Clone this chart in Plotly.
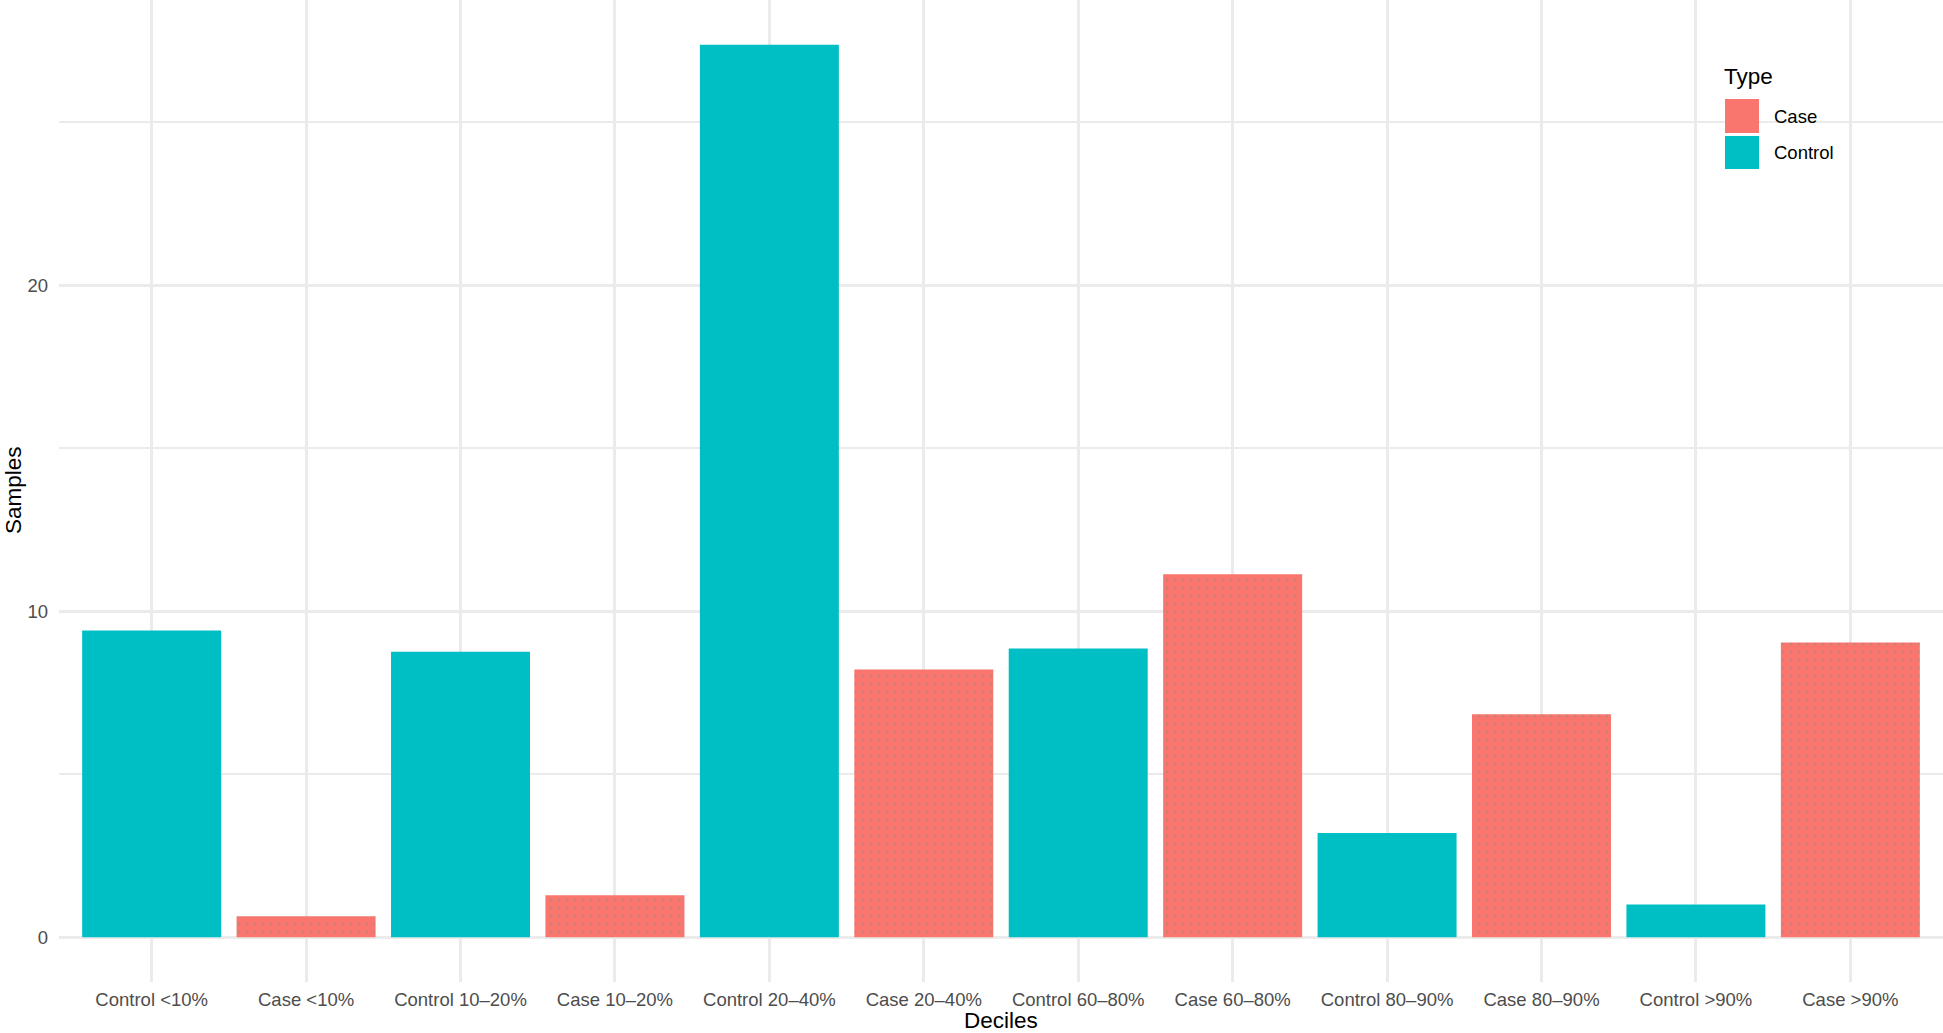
import plotly.graph_objects as go

# ---- data ----
categories = ["Control <10%", "Case <10%", "Control 10–20%", "Case 10–20%",
              "Control 20–40%", "Case 20–40%", "Control 60–80%", "Case 60–80%",
              "Control 80–90%", "Case 80–90%", "Control >90%", "Case >90%"]
types = ["Control", "Case", "Control", "Case", "Control", "Case",
         "Control", "Case", "Control", "Case", "Control", "Case"]
samples = [9.41, 0.65, 8.76, 1.29, 27.37, 8.21, 8.86, 11.13, 3.20, 6.84, 1.01, 9.04]

legend_types = ["Case", "Control"]
colors = {"Case": "#F8766D", "Control": "#00BFC4"}

W, H = 1943, 1033
L, R, T, B = 59, 1943, 0, 982
FONT = "Liberation Sans, Arial, Helvetica, sans-serif"


def px(x):
    return (x - L) / (R - L)


def py(y):
    return (B - y) / (B - T)


fig = go.Figure()
for t in ["Control", "Case"]:
    xs = [c for c, tt in zip(categories, types) if tt == t]
    ys = [v for v, tt in zip(samples, types) if tt == t]
    marker = dict(color=colors[t], line=dict(width=0))
    if t == "Case":
        marker["pattern"] = dict(shape=".", fgcolor="#5a9893", bgcolor=colors[t],
                                 size=8, solidity=0.05)
    fig.add_trace(go.Bar(x=xs, y=ys, name=t, width=0.9, marker=marker,
                         showlegend=False))

ymax = max(samples)
fig.update_layout(
    width=W, height=H,
    margin=dict(l=L, r=W - R, t=T, b=H - B, pad=0),
    paper_bgcolor="white", plot_bgcolor="white",
    barmode="overlay",
    font=dict(family=FONT),
    xaxis=dict(
        type="category", categoryorder="array", categoryarray=categories,
        range=[-0.6, len(categories) - 0.4],
        showgrid=True, gridcolor="#EBEBEB", gridwidth=2.7,
        showline=False, zeroline=False, ticks="",
        tickfont=dict(size=18.5, color="#4D4D4D", family=FONT),
        ticklabelstandoff=4,
    ),
    yaxis=dict(
        range=[-0.05 * ymax, 1.05 * ymax],
        tickmode="array", tickvals=[0, 10, 20], ticktext=["0", "10", "20"],
        showgrid=True, gridcolor="#EBEBEB", gridwidth=2.7,
        minor=dict(tickmode="array", tickvals=[5, 15, 25], showgrid=True,
                   gridcolor="#EBEBEB", gridwidth=1.6),
        showline=False, zeroline=False, ticks="",
        tickfont=dict(size=18.5, color="#4D4D4D", family=FONT),
        ticklabelstandoff=10,
    ),
)

shapes = []
annotations = []
# manual legend
key_rows = [(99, 133, 117), (136, 169, 153)]
for t, (y0, y1, yc) in zip(legend_types, key_rows):
    shapes.append(dict(type="rect", xref="paper", yref="paper",
                       x0=px(1725), x1=px(1759), y0=py(y1), y1=py(y0),
                       fillcolor=colors[t], line=dict(width=0), layer="above"))
    annotations.append(dict(text=t, xref="paper", yref="paper", x=px(1772), y=py(yc),
                            xanchor="left", yanchor="middle", showarrow=False,
                            font=dict(size=18.5, color="black", family=FONT)))
annotations.append(dict(text="Type", xref="paper", yref="paper", x=px(1722), y=py(76),
                        xanchor="left", yanchor="middle", showarrow=False,
                        font=dict(size=22.5, color="black", family=FONT)))
# axis titles
annotations.append(dict(text="Deciles", xref="paper", yref="paper", x=0.5, y=py(1020),
                        xanchor="center", yanchor="middle", showarrow=False,
                        font=dict(size=22.5, color="black", family=FONT)))
annotations.append(dict(text="Samples", xref="paper", yref="paper", x=px(13), y=py(490),
                        xanchor="center", yanchor="middle", showarrow=False, textangle=-90,
                        font=dict(size=22.5, color="black", family=FONT)))

fig.update_layout(shapes=shapes, annotations=annotations)
fig.write_html("out.html", config={"displayModeBar": False},
               post_script="document.body.style.margin='0';document.body.style.overflow='hidden';")
